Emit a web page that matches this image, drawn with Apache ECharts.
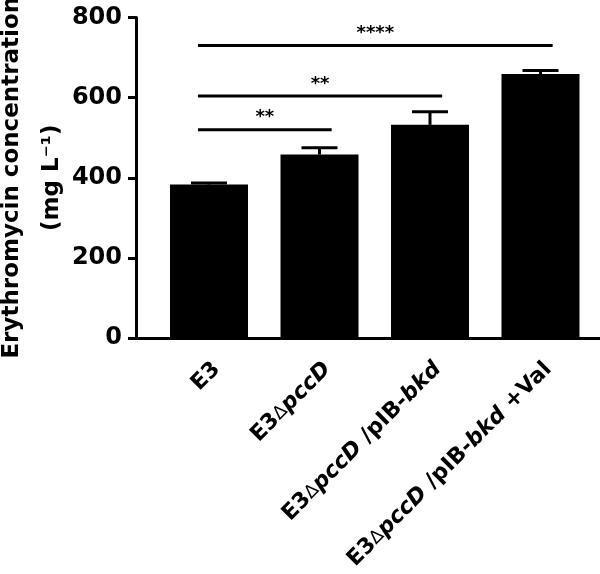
<!DOCTYPE html>
<html>
<head>
<meta charset="utf-8">
<script src="https://cdn.jsdelivr.net/npm/echarts@6/dist/echarts.min.js"></script>
<style>
html, body { margin: 0; padding: 0; background: #fff; }
#chart { width: 600px; height: 574px; }
</style>
</head>
<body>
<div id="chart"></div>
<script>
// data
var categories = ['E3', 'E3ΔpccD', 'E3ΔpccD /pIB-bkd', 'E3ΔpccD /pIB-bkd +Val'];
var means = [383, 458, 532, 659];
var errTops = [387, 475, 565, 668];
var sigFrom = [0, 0, 0];
var sigTo = [1, 2, 3];
var sigY = [520, 604, 730];
var sigText = ['**', '**', '****'];

var font = 'DejaVu Sans';

// turn a category name into rich text (italic gene names, thin delta)
function richLabel(name) {
	var parts = name.split(/(pccD|bkd|Δ)/);
	var out = '';
	for (var i = 0; i < parts.length; i++) {
		var p = parts[i];
		if (!p) continue;
		if (p == 'pccD' || p == 'bkd') out += '{i|' + p + '}';
		else if (p == 'Δ') out += '{d|' + p + '}';
		else out += '{n|' + p + '}';
	}
	return out;
}

var errData = [];
for (var i = 0; i < categories.length; i++) {
	errData.push([i, means[i], errTops[i]]);
}
var sigData = [];
for (var i = 0; i < sigY.length; i++) {
	sigData.push([sigFrom[i], sigTo[i], sigY[i]]);
}

var chart = echarts.init(document.getElementById('chart'));
var option = {
	animation: false,
	backgroundColor: '#fff',
	grid: [
		{ left: 136, top: 17.5, bottom: 236, right: -4, containLabel: false, outerBoundsMode: 'none' },
		{ left: 153.75, top: 17.5, bottom: 236, width: 442, containLabel: false, outerBoundsMode: 'none' }
	],
	xAxis: [
		{
			gridIndex: 0,
			type: 'value',
			min: 0,
			max: 1,
			axisLine: { lineStyle: { color: '#000', width: 3 } },
			axisTick: { show: false },
			axisLabel: { show: false },
			splitLine: { show: false }
		},
		{
			gridIndex: 1,
			type: 'category',
			data: categories,
			axisLine: { show: false },
			axisTick: { alignWithLabel: true, length: 8, lineStyle: { color: '#000', width: 3 } },
			axisLabel: {
				interval: 0,
				rotate: 45,
				margin: 20,
				verticalAlign: 'top',
				formatter: function (v) { return richLabel(v); },
				rich: {
					n: { fontFamily: font, fontWeight: 'bold', fontSize: 22, color: '#000' },
					i: { fontFamily: font, fontWeight: 'bold', fontStyle: 'italic', fontSize: 22, color: '#000' },
					d: { fontFamily: font, fontWeight: 'normal', fontSize: 18, color: '#000' }
				}
			}
		}
	],
	yAxis: [
		{
			gridIndex: 0,
			type: 'value',
			min: 0,
			max: 800,
			interval: 200,
			name: 'Erythromycin concentration\n(mg L⁻¹)',
			nameLocation: 'middle',
			nameGap: 64,
			nameMoveOverlap: false,
			nameTextStyle: { fontFamily: font, fontWeight: 'bold', fontSize: 23, lineHeight: 40, color: '#000' },
			axisLine: { show: true, lineStyle: { color: '#000', width: 3 } },
			axisTick: { show: true, length: 8, lineStyle: { color: '#000', width: 3 } },
			axisLabel: { margin: 14, fontFamily: font, fontWeight: 'bold', fontSize: 24, color: '#000' },
			splitLine: { show: false }
		},
		{
			gridIndex: 1,
			type: 'value',
			min: 0,
			max: 800,
			show: false,
			splitLine: { show: false }
		}
	],
	series: [
		{
			type: 'bar',
			xAxisIndex: 1,
			yAxisIndex: 1,
			barWidth: 78,
			itemStyle: { color: '#000' },
			data: means
		},
		{
			// SD error bars (upper side only)
			type: 'custom',
			xAxisIndex: 1,
			yAxisIndex: 1,
			z: 3,
			encode: { x: 0, y: [1, 2] },
			data: errData,
			renderItem: function (params, api) {
				var x = api.value(0);
				var base = api.coord([x, api.value(1)]);
				var top = api.coord([x, api.value(2)]);
				var half = 18;
				return {
					type: 'group',
					children: [
						{ type: 'line', shape: { x1: base[0], y1: base[1], x2: top[0], y2: top[1] }, style: { stroke: '#000', lineWidth: 3 } },
						{ type: 'line', shape: { x1: top[0] - half, y1: top[1], x2: top[0] + half, y2: top[1] }, style: { stroke: '#000', lineWidth: 3 } }
					]
				};
			}
		},
		{
			// significance lines
			type: 'custom',
			xAxisIndex: 1,
			yAxisIndex: 1,
			z: 3,
			encode: { x: [0, 1], y: 2 },
			data: sigData,
			renderItem: function (params, api) {
				var band = api.size([1, 0])[0];
				var a = api.coord([api.value(0), api.value(2)]);
				var b = api.coord([api.value(1), api.value(2)]);
				var x1 = a[0] - 0.1 * band;
				var x2 = b[0] + 0.11 * band;
				return {
					type: 'group',
					children: [
						{ type: 'line', shape: { x1: x1, y1: a[1], x2: x2, y2: a[1] }, style: { stroke: '#000', lineWidth: 3 } },
						{ type: 'text', x: (x1 + x2) / 2, y: a[1] - 12, style: { text: sigText[params.dataIndex], fill: '#000', fontFamily: font, fontWeight: 'bold', fontSize: 18, align: 'center', verticalAlign: 'middle' } }
					]
				};
			}
		}
	]
};
chart.setOption(option);
</script>
</body>
</html>
